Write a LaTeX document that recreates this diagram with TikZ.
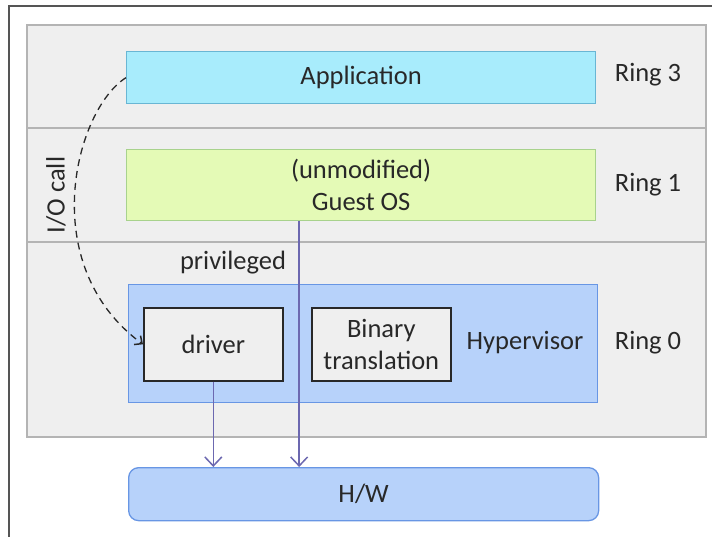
\documentclass[tikz,border=0pt]{standalone}
\usepackage{fontspec}
\setmainfont{Carlito}
\usetikzlibrary{arrows.meta}
\definecolor{bandgray}{RGB}{239,239,239}
\definecolor{bandline}{RGB}{180,180,180}
\definecolor{framegray}{RGB}{85,85,85}
\definecolor{appfill}{RGB}{168,236,252}
\definecolor{appline}{RGB}{105,182,212}
\definecolor{guestfill}{RGB}{228,250,182}
\definecolor{guestline}{RGB}{168,210,140}
\definecolor{hypfill}{RGB}{183,210,250}
\definecolor{hypline}{RGB}{104,150,228}
\definecolor{callpurple}{RGB}{108,104,176}
\definecolor{txt}{RGB}{40,40,40}
\begin{document}
\begin{tikzpicture}[x=1pt,y=-1pt,font=\fontsize{26.5}{32}\selectfont,text=txt,
  band/.style={draw=bandline, fill=bandgray, line width=1.4pt},
  layer/.style={line width=1.3pt, anchor=north west, inner sep=0pt, align=center},
  inbox/.style={draw=txt, fill=bandgray, line width=1.6pt, anchor=north west,
    minimum width=139pt, minimum height=73pt, inner sep=0pt, align=center},
  hwcall/.style={callpurple, line width=1.5pt, -{Straight Barb[length=9pt,width=17pt,line width=1.5pt]}}]
  \useasboundingbox (0,0) rectangle (712,536);
  % outer frame
  \draw[framegray, line width=1.3pt] (9,537) -- (9,6) -- (713,6);
  % privilege rings
  \draw[band] (27,25) rectangle (706,128);
  \draw[band] (27,128) rectangle (706,242);
  \draw[band] (27,242) rectangle (706,437);
  \node (ring3) at (648,75) {Ring 3};
  \node (ring1) at (648,185) {Ring 1};
  \node (ring0) at (648,343) {Ring 0};
  % layers
  \node[layer, draw=appline, fill=appfill, minimum width=469pt, minimum height=52pt] (app) at (126,51) {Application};
  \node[layer, draw=guestline, fill=guestfill, minimum width=469pt, minimum height=71pt] (guest) at (126,149) {(unmodified)\\Guest OS};
  \node[layer, draw=hypline, fill=hypfill, minimum width=469pt, minimum height=118pt] (hyper) at (128,284) {};
  \node (hyplabel) at (525,343) {Hypervisor};
  \node[inbox] (driver) at (143,307) {driver};
  \node[inbox] (bt) at (311,307) {Binary\\translation};
  \node[layer, draw=hypline, fill=hypfill, rounded corners=10pt, minimum width=470pt, minimum height=53pt] (hw) at (128,467) {H/W};
  \node (priv) at (233,263) {privileged};
  \node[rotate=90] (iocall) at (56,195) {I/O call};
  % calls
  \draw[dash pattern=on 7pt off 5pt, line width=1.3pt, txt, -{Straight Barb[length=6pt,width=11pt,line width=1.5pt]}]
    (app.west) .. controls (75,110) and (35,265) .. (driver.west);
  \coordinate (gout) at ([xshift=-62pt]guest.south);
  \draw[hwcall] (gout) -- (gout |- hw.north);
  \draw[hwcall] (driver.south) -- (driver.south |- hw.north);
\end{tikzpicture}
\end{document}
